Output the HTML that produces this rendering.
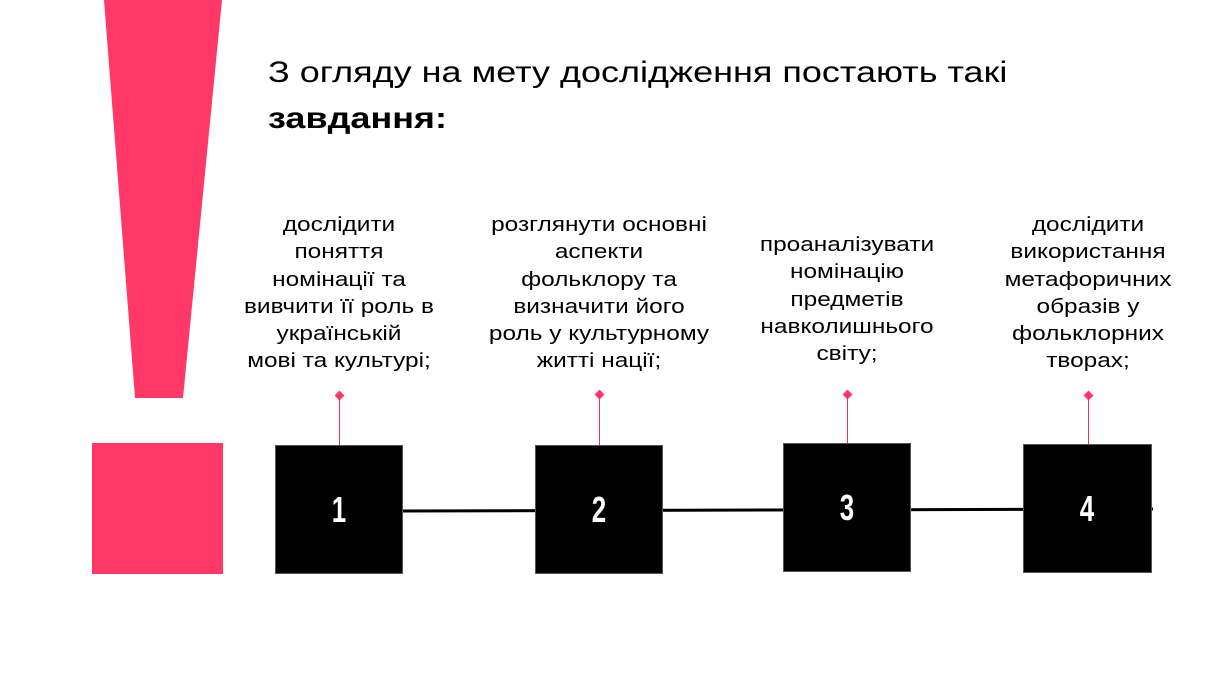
<!DOCTYPE html>
<html><head><meta charset="utf-8"><style>
body{margin:0;width:1212px;height:677px;background:#fff;position:relative;overflow:hidden;font-family:"Liberation Sans","DejaVu Sans",sans-serif;}
.a{position:absolute}
.box{position:absolute;width:128px;height:128px;background:#000;border:1px solid #555;box-sizing:border-box;color:#fff;font-weight:bold;font-size:36px;display:flex;align-items:center;justify-content:center}
.box span{display:inline-block;transform:scaleX(0.72)}
.t{position:absolute;text-align:center;font-size:20px;line-height:27.3px;color:#000;width:240px;transform:scaleX(1.22);transform-origin:center top}
.v{position:absolute;width:1px;background:#e8305f}
.d{position:absolute;width:7px;height:7px;background:#ff3868;transform:rotate(45deg)}
</style></head><body>
<svg class="a" style="left:0;top:0" width="1212" height="677">
<polygon points="104,0 222,0 183,398 135,398" fill="#ff3868"/>
<rect x="92" y="443" width="131" height="131" fill="#ff3868"/>
<line x1="400" y1="511" x2="1153" y2="509" stroke="#000" stroke-width="3"/>
</svg>
<div class="a" style="left:268px;top:50px;font-size:30px;line-height:46px;color:#000;transform:scaleX(1.2);transform-origin:left top;white-space:nowrap">З огляду на мету дослідження постають такі<br><b>завдання:</b></div>

<div class="t" style="left:219px;top:212px">дослідити<br>поняття<br>номінації та<br>вивчити її роль в<br>українській<br>мові та культурі;</div>
<div class="t" style="left:479px;top:212px">розглянути основні<br>аспекти<br>фольклору та<br>визначити його<br>роль у культурному<br>житті нації;</div>
<div class="t" style="left:727px;top:232px">проаналізувати<br>номінацію<br>предметів<br>навколишнього<br>світу;</div>
<div class="t" style="left:968px;top:212px">дослідити<br>використання<br>метафоричних<br>образів у<br>фольклорних<br>творах;</div>

<div class="d" style="left:336px;top:392px"></div><div class="v" style="left:339px;top:396px;height:49px"></div>
<div class="d" style="left:596px;top:391px"></div><div class="v" style="left:599px;top:395px;height:50px"></div>
<div class="d" style="left:844px;top:391px"></div><div class="v" style="left:847px;top:395px;height:49px"></div>
<div class="d" style="left:1085px;top:392px"></div><div class="v" style="left:1088px;top:396px;height:48px"></div>

<div class="box" style="left:275px;top:445px;width:128px;height:129px"><span>1</span></div>
<div class="box" style="left:535px;top:445px;width:128px;height:129px"><span>2</span></div>
<div class="box" style="left:783px;top:443px;width:128px;height:129px"><span>3</span></div>
<div class="box" style="left:1023px;top:444px;width:129px;height:129px"><span>4</span></div>
</body></html>
